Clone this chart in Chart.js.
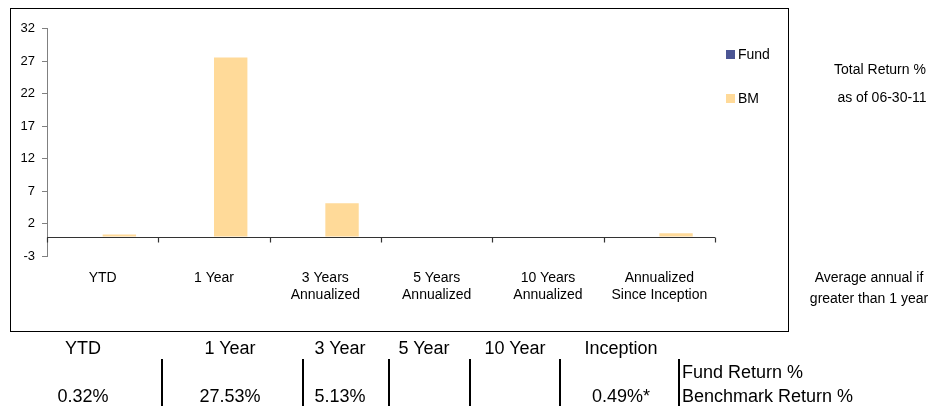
<!DOCTYPE html>
<html>
<head>
<meta charset="utf-8">
<script src="https://cdn.jsdelivr.net/npm/chart.js@4.4.0/dist/chart.umd.min.js"></script>
<style>
  body { margin: 0; background: #fff; font-family: "Liberation Sans", Arial, sans-serif; color: #000; }
  #wrap { position: relative; width: 931px; height: 406px; overflow: hidden; }
  #frame { position: absolute; left: 10px; top: 8px; width: 779px; height: 324px; box-sizing: border-box; border: 1px solid #000; }
  #chart { position: absolute; left: 0; top: 0; }
  .t { position: absolute; white-space: nowrap; line-height: 20px; }
  .c { transform: translateX(-50%); }
  .side { font-size: 14px; }
  .leg { position: absolute; font-size: 14px; line-height: 16px; white-space: nowrap; }
  .leg i { display: inline-block; width: 9px; height: 9px; margin-right: 3px; vertical-align: 0px; }
  .tab { font-size: 18px; }
  .sep { position: absolute; width: 2px; background: #000; }
</style>
</head>
<body>
<div id="wrap">
  <div id="frame"></div>
  <canvas id="chart" width="931" height="406"></canvas>
</div>
<script>
// data
const categories = [["YTD"], ["1 Year"], ["3 Years", "Annualized"], ["5 Years", "Annualized"], ["10 Years", "Annualized"], ["Annualized", "Since Inception"]];
const fundReturns = [null, null, null, null, null, null];
const bmReturns = [0.32, 27.53, 5.13, null, null, 0.49];
const yTicks = [-3, 2, 7, 12, 17, 22, 27, 32];

// table under the chart
const tableHeaders = ["YTD", "1 Year", "3 Year", "5 Year", "10 Year", "Inception"];
const fundText = ["", "", "", "", "", ""];
const bmText = ["0.32%", "27.53%", "5.13%", "", "", "0.49%*"];

const fundColor = "#4B5594";
const bmColor = "#FFDA99";

const wrap = document.getElementById("wrap");

const addText = (txt, cls, left, top) => {
  const d = document.createElement("div");
  d.className = "t " + cls;
  d.textContent = txt;
  d.style.left = left + "px";
  d.style.top = top + "px";
  wrap.appendChild(d);
};

// legend (html)
const legendItems = [["Fund", fundColor, 46], ["BM", bmColor, 90]];
legendItems.forEach(([name, color, top]) => {
  const d = document.createElement("div");
  d.className = "leg";
  d.style.left = "726px";
  d.style.top = top + "px";
  d.innerHTML = `<i style="background:${color}"></i>${name}`;
  wrap.appendChild(d);
});

// side notes
addText("Total Return %", "side c", 880, 59);
addText("as of 06-30-11", "side c", 882, 87);
addText("Average annual if", "side c", 869, 267);
addText("greater than 1 year", "side c", 869, 288);

// table
const colCenters = [83, 230, 340, 424, 515, 621];
tableHeaders.forEach((h, i) => addText(h, "tab c", colCenters[i], 338));
fundText.forEach((v, i) => v && addText(v, "tab c", colCenters[i], 362));
bmText.forEach((v, i) => v && addText(v, "tab c", colCenters[i], 386));
addText("Fund Return %", "tab", 682, 362);
addText("Benchmark Return %", "tab", 682, 386);

[161, 302, 388, 469, 559, 678].forEach((x) => {
  const s = document.createElement("div");
  s.className = "sep";
  s.style.left = x + "px";
  s.style.top = "359px";
  s.style.height = "47px";
  wrap.appendChild(s);
});

// zero line with category tick marks
const zeroLine = {
  id: "zeroLine",
  afterDatasetsDraw(chart) {
    const { ctx, chartArea, scales } = chart;
    const y0 = Math.round(scales.y.getPixelForValue(0)) + 0.5;
    ctx.save();
    ctx.strokeStyle = "#333";
    ctx.lineWidth = 1.2;
    ctx.beginPath();
    ctx.moveTo(chartArea.left, y0);
    ctx.lineTo(chartArea.right, y0);
    for (let i = 0; i <= categories.length; i++) {
      const px = Math.round(scales.x.getPixelForValue(i - 0.5)) + 0.5;
      ctx.moveTo(px, y0);
      ctx.lineTo(px, y0 + 5);
    }
    ctx.stroke();
    ctx.restore();
  },
};

Chart.defaults.font.family = '"Liberation Sans", Arial, sans-serif';
Chart.defaults.color = "#000";

new Chart(document.getElementById("chart").getContext("2d"), {
  type: "bar",
  data: {
    labels: categories,
    datasets: [
      { label: "Fund", data: fundReturns, backgroundColor: fundColor, borderWidth: 0 },
      { label: "BM", data: bmReturns, backgroundColor: bmColor, borderWidth: 0 },
    ],
  },
  options: {
    responsive: false,
    animation: false,
    events: [],
    layout: { padding: { left: 0, right: 216, top: 28.5, bottom: 100 } },
    plugins: { legend: { display: false }, tooltip: { enabled: false } },
    datasets: { bar: { categoryPercentage: 0.6, barPercentage: 1.0 } },
    scales: {
      x: {
        grid: { display: false, drawTicks: false },
        border: { display: false },
        ticks: { font: { size: 14, lineHeight: 1.22 }, padding: 13.5, maxRotation: 0, autoSkip: false },
        afterFit: (s) => { s.height = 50; },
      },
      y: {
        min: -3,
        max: 32,
        afterBuildTicks: (s) => { s.ticks = yTicks.map((v) => ({ value: v })); },
        grid: { drawOnChartArea: false, tickLength: 5, color: "#808080" },
        border: { color: "#808080" },
        ticks: { font: { size: 13 }, padding: 7 },
        afterFit: (s) => { s.width = 47; },
      },
    },
  },
  plugins: [zeroLine],
});
</script>
</body>
</html>
